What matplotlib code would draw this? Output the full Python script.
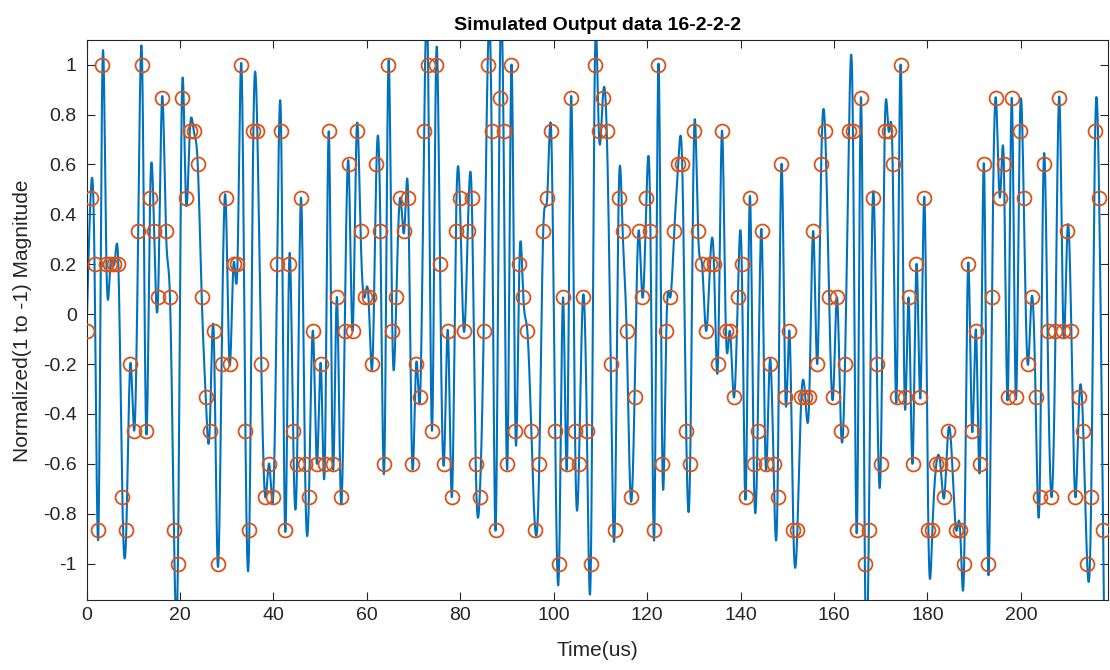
import numpy as np
import matplotlib
matplotlib.use("Agg")
import matplotlib.pyplot as plt

plt.rcParams['font.family'] = ['Liberation Sans', 'DejaVu Sans']
plt.rcParams['axes.unicode_minus'] = False

title = "Simulated Output data 16-2-2-2"
xlabel = "Time(us)"
ylabel = "Normalized(1 to -1) Magnitude"

sample_period = 0.85  # us between samples

values = [
    -0.067, 0.467, 0.2, -0.867, 1, 0.2, 0.2, 0.2, 0.2, -0.733,
    -0.867, -0.2, -0.467, 0.333, 1, -0.467, 0.467, 0.333, 0.067, 0.867,
    0.333, 0.067, -0.867, -1, 0.867, 0.467, 0.733, 0.733, 0.6, 0.067,
    -0.333, -0.467, -0.067, -1, -0.2, 0.467, -0.2, 0.2, 0.2, 1,
    -0.467, -0.867, 0.733, 0.733, -0.2, -0.733, -0.6, -0.733, 0.2, 0.733,
    -0.867, 0.2, -0.467, -0.6, 0.467, -0.6, -0.733, -0.067, -0.6, -0.2,
    -0.6, 0.733, -0.6, 0.067, -0.733, -0.067, 0.6, -0.067, 0.733, 0.333,
    0.067, 0.067, -0.2, 0.6, 0.333, -0.6, 1, -0.067, 0.067, 0.467,
    0.333, 0.467, -0.6, -0.2, -0.333, 0.733, 1, -0.467, 1, 0.2,
    -0.6, -0.067, -0.733, 0.333, 0.467, -0.067, 0.333, 0.467, -0.6, -0.733,
    -0.067, 1, 0.733, -0.867, 0.867, 0.733, -0.6, 1, -0.467, 0.2,
    0.067, -0.067, -0.467, -0.867, -0.6, 0.333, 0.467, 0.733, -0.467, -1,
    0.067, -0.6, 0.867, -0.467, -0.6, 0.067, -0.467, -1, 1, 0.733,
    0.867, 0.733, -0.2, -0.867, 0.467, 0.333, -0.067, -0.733, -0.333, 0.333,
    0.067, 0.467, 0.333, -0.867, 1, -0.6, -0.067, 0.067, 0.333, 0.6,
    0.6, -0.467, -0.6, 0.733, 0.333, 0.2, -0.067, 0.2, 0.2, -0.2,
    0.733, -0.067, -0.067, -0.333, 0.067, 0.2, -0.733, 0.467, -0.6, -0.467,
    0.333, -0.6, -0.2, -0.6, -0.733, 0.6, -0.333, -0.067, -0.867, -0.867,
    -0.333, -0.333, -0.333, 0.333, -0.2, 0.6, 0.733, 0.067, -0.333, 0.067,
    -0.467, -0.2, 0.733, 0.733, -0.867, 0.867, -1, -0.867, 0.467, -0.2,
    -0.6, 0.733, 0.733, 0.6, -0.333, 1, -0.333, 0.067, -0.6, 0.2,
    -0.333, 0.467, -0.867, -0.867, -0.6, -0.6, -0.733, -0.467, -0.6, -0.867,
    -0.867, -1, 0.2, -0.467, -0.067, -0.6, 0.6, -1, 0.067, 0.867,
    0.467, 0.6, -0.333, 0.867, -0.333, 0.733, 0.467, -0.2, 0.067, -0.333,
    -0.733, 0.6, -0.067, -0.733, -0.067, 0.867, -0.067, 0.333, -0.067, -0.733,
    -0.333, -0.467, -1, -0.733, 0.733, 0.467, -0.867,
]

xticks = [0, 20, 40, 60, 80, 100, 120, 140, 160, 180, 200]
yticks = [-1, -0.8, -0.6, -0.4, -0.2, 0, 0.2, 0.4, 0.6, 0.8, 1]
ytick_labels = ["-1", "-0.8", "-0.6", "-0.4", "-0.2", "0", "0.2", "0.4", "0.6", "0.8", "1"]
x_limits = (0, 218.6)
y_limits = (-1.147, 1.098)

y = np.asarray(values, dtype=float)
n = len(y)
t = np.arange(n) * sample_period
h = sample_period

# natural cubic spline through the samples
A = np.zeros((n, n))
b = np.zeros(n)
A[0, 0] = 1.0
A[-1, -1] = 1.0
for i in range(1, n - 1):
    A[i, i - 1] = 1.0
    A[i, i] = 4.0
    A[i, i + 1] = 1.0
    b[i] = 6.0 * (y[i + 1] - 2 * y[i] + y[i - 1]) / h ** 2
M = np.linalg.solve(A, b)

ts = np.linspace(0, x_limits[1], 6000)
idx = np.clip((ts // h).astype(int), 0, n - 2)
a = t[idx]
bpt = t[idx + 1]
A1 = (bpt - ts) / h
B1 = (ts - a) / h
ys = (A1 * y[idx] + B1 * y[idx + 1]
      + ((A1 ** 3 - A1) * M[idx] + (B1 ** 3 - B1) * M[idx + 1]) * h ** 2 / 6.0)

fig = plt.figure(figsize=(11.1, 6.7), dpi=100)
ax = fig.add_axes([0.078, 0.104, 0.920, 0.836])

ax.plot(ts, ys, color='#0072BD', linewidth=1.5, zorder=2)
ax.plot(t, y, linestyle='none', marker='o', markersize=10, markerfacecolor='none',
        markeredgecolor='#D95319', markeredgewidth=1.3, zorder=3)

ax.set_xlim(*x_limits)
ax.set_ylim(*y_limits)
ax.set_xticks(xticks)
ax.set_yticks(yticks)
ax.set_yticklabels(ytick_labels)

for s in ax.spines.values():
    s.set_color('#262626')
    s.set_linewidth(0.8)
ax.tick_params(direction='in', length=6, width=0.8, colors='#262626',
               labelsize=14, top=True, right=True)
ax.tick_params(axis='x', pad=5)
ax.tick_params(axis='y', pad=7)
for lbl in ax.get_xticklabels() + ax.get_yticklabels():
    lbl.set_color('#262626')

ax.set_title(title, fontsize=14, fontweight='bold', color='black', pad=7)
ax.set_xlabel(xlabel, fontsize=15, color='#262626', labelpad=12)
ax.set_ylabel(ylabel, fontsize=15, color='#262626', labelpad=8)

fig.savefig("out.png", dpi=100)
